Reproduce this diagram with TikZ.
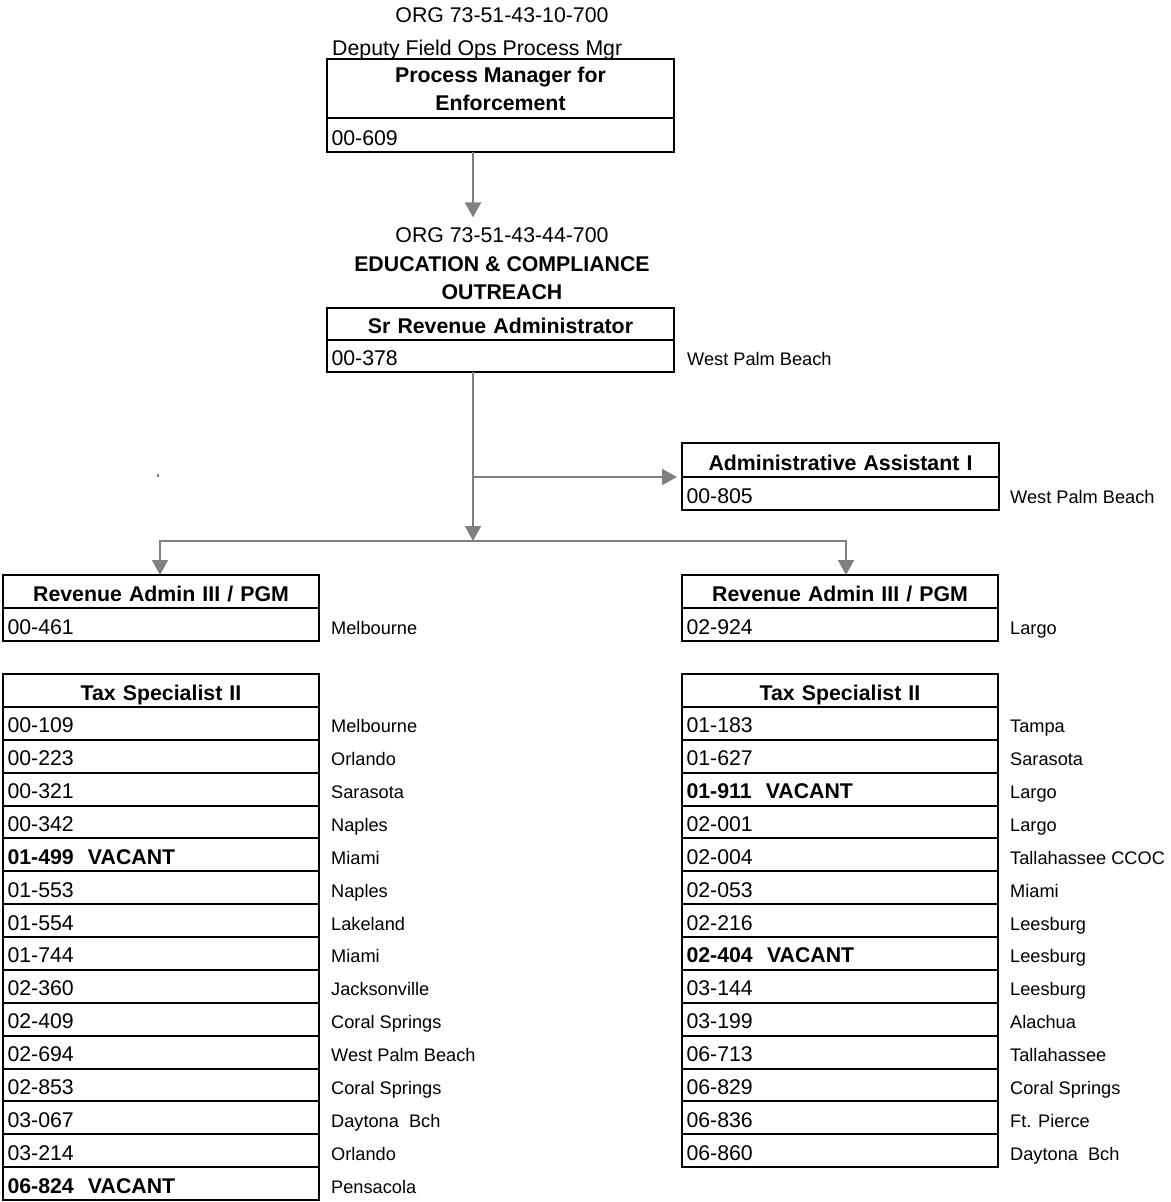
\documentclass[tikz,border=0pt]{standalone}
\usepackage{fontspec}
\setmainfont{Liberation Sans}
\usetikzlibrary{arrows.meta}
\definecolor{linkgray}{RGB}{128,128,128}
\newcommand{\cellfont}{\fontsize{21.3pt}{28pt}\selectfont}
\newcommand{\placefont}{\fontsize{18.2pt}{22pt}\selectfont}

\begin{document}
\begin{tikzpicture}[x=1pt,y=-1pt,
  % one cell of a position box: text width, height, text height, alignment
  cell/.style n args={4}{draw=black, line width=2pt, anchor=north west,
    inner xsep=4.5pt, inner ysep=0pt, outer sep=0pt, text width=#1, minimum height=#2,
    text height=#3, text depth=0pt, align=#4, font=\cellfont},
  plain/.style={inner sep=0pt, font=\cellfont},
  place/.style={inner sep=0pt, font=\placefont, anchor=base west},
  link/.style={draw=linkgray, line width=2pt},
  tip/.style={-{Triangle[width=16pt,length=15pt]}},
  twotips/.style={{Triangle[width=16pt,length=15pt]}-{Triangle[width=16pt,length=15pt]}}
]
\useasboundingbox (0,0) rectangle (1170,1202);

% ---- Process Manager for Enforcement ----
\node[plain, anchor=base] (org1) at (502,22.5) {ORG 73-51-43-10-700};
\node[plain, anchor=base west] (deputy) at (332,55) {Deputy Field Ops Process Mgr};
\node[cell={338pt}{59pt}{19pt}{center}] (pmT) at (327,59) {};
\node[plain, anchor=south, align=center, font=\cellfont\bfseries] (pmTitle) at (500.5,111)
  {Process Manager for\\Enforcement};
\node[cell={338pt}{34pt}{20pt}{left}] (pmR) at (pmT.south west) {00-609};

% ---- Education & Compliance Outreach ----
\node[plain, anchor=base] (org2) at (502,242) {ORG 73-51-43-44-700};
\node[plain, anchor=south, align=center, font=\cellfont\bfseries] (unit) at (502,299.5)
  {EDUCATION \& COMPLIANCE\\OUTREACH};
\node[cell={338pt}{32pt}{18pt}{center}, font=\cellfont\bfseries] (srT) at (327,308) {Sr Revenue Administrator};
\node[cell={338pt}{32pt}{18pt}{left}] (srR) at (srT.south west) {00-378};
\node[place] (srLoc) at (687,365.5) {West Palm Beach};

% ---- Administrative Assistant ----
\node[cell={308pt}{34pt}{20pt}{center}, font=\cellfont\bfseries] (adT) at (682,443) {Administrative Assistant I};
\node[cell={308pt}{33pt}{19pt}{left}] (adR) at (adT.south west) {00-805};
\node[place] (adLoc) at (1010,503.5) {West Palm Beach};

% ---- Revenue Admin III / PGM ----
\node[cell={307pt}{33pt}{19pt}{center}, font=\cellfont\bfseries] (revLT) at (3,575) {Revenue Admin III / PGM};
\node[cell={307pt}{33pt}{19pt}{left}] (revLR) at (revLT.south west) {00-461};
\node[place] (revLLoc) at (331,634) {Melbourne};

\node[cell={307pt}{33pt}{19pt}{center}, font=\cellfont\bfseries] (revRT) at (682,575) {Revenue Admin III / PGM};
\node[cell={307pt}{33pt}{19pt}{left}] (revRR) at (revRT.south west) {02-924};
\node[place] (revRLoc) at (1010,634) {Largo};

% ---- Tax Specialist II, left group ----
\node[cell={307pt}{33pt}{19pt}{center}, font=\cellfont\bfseries] (taxLT) at (3,674) {Tax Specialist II};
\foreach \c/\l [count=\i] in {
  00-109/Melbourne, 00-223/Orlando, 00-321/Sarasota, 00-342/Naples,
  {\textbf{01-499~~VACANT}}/Miami, 01-553/Naples, 01-554/Lakeland,
  01-744/Miami, 02-360/Jacksonville, 02-409/Coral Springs,
  02-694/West Palm Beach, 02-853/Coral Springs, 03-067/Daytona~~Bch,
  03-214/Orlando, {\textbf{06-824~~VACANT}}/Pensacola}{
  \node[cell={307pt}{32.867pt}{18.867pt}{left}] (L\i) at (3,{707+(\i-1)*32.867}) {\c};
  \node[place] (Lloc\i) at (331,{707+\i*32.867-7}) {\l};
}

% ---- Tax Specialist II, right group ----
\node[cell={307pt}{33pt}{19pt}{center}, font=\cellfont\bfseries] (taxRT) at (682,674) {Tax Specialist II};
\foreach \c/\l [count=\i] in {
  01-183/Tampa, 01-627/Sarasota, {\textbf{01-911~~VACANT}}/Largo,
  02-001/Largo, 02-004/Tallahassee CCOC, 02-053/Miami, 02-216/Leesburg,
  {\textbf{02-404~~VACANT}}/Leesburg, 03-144/Leesburg, 03-199/Alachua,
  06-713/Tallahassee, 06-829/Coral Springs, 06-836/Ft. Pierce,
  06-860/Daytona~~Bch}{
  \node[cell={307pt}{32.867pt}{18.867pt}{left}] (R\i) at (682,{707+(\i-1)*32.867}) {\c};
  \node[place] (Rloc\i) at (1010,{707+\i*32.867-7}) {\l};
}

% ---- reporting lines ----
\coordinate (trunk) at (473,0);
\coordinate (split) at (473,541);
\coordinate (busL) at (160,541);
\coordinate (busR) at (846,541);

\draw[link, tip, shorten >=9.5pt] (pmR.south -| trunk) -- (org2.north -| trunk);
\draw[link, tip] (srR.south -| trunk) -- (split);
\draw[link, tip, shorten >=5pt] (trunk |- adT.south west) -- (adT.south west);
\draw[link, twotips] (busL |- revLT.north) -- (busL) -- (busR) -- (busR |- revRT.north);

% stray speck left of the trunk
\fill[linkgray] (157,474) rectangle (158.5,476.5);
\end{tikzpicture}
\end{document}
